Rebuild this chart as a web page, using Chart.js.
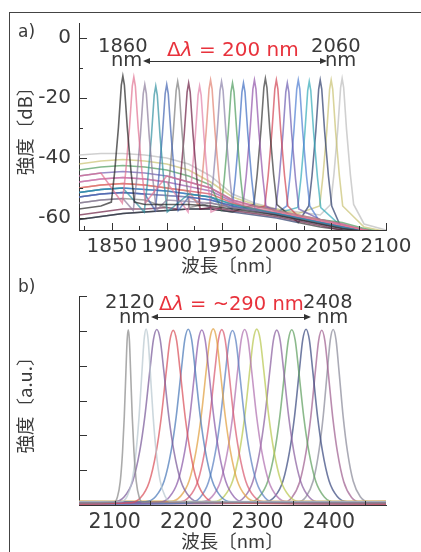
<!DOCTYPE html>
<html>
<head>
<meta charset="utf-8">
<script src="https://cdn.jsdelivr.net/npm/chart.js@4/dist/chart.umd.min.js"></script>
<style>
  body { margin: 0; background: #fff; }
  #page { position: relative; width: 421px; height: 552px; overflow: hidden;
          font-family: 'DejaVu Sans', sans-serif; color: #3a3a3a; }
  .frame { position: absolute; left: 9px; top: 12px; right: -2px; bottom: -2px;
           border-left: 1px solid #444; border-top: 1px solid #444; }
  canvas { position: absolute; left: 0; }
  .t { position: absolute; line-height: 1; white-space: nowrap; font-size: 19.5px; }
  .red { color: #e8323c; font-size: 20px; }
  .arrow { position: absolute; height: 1px; background: #333; }
  .arrow:before, .arrow:after { content: ''; position: absolute; top: -3px;
           border-top: 3.5px solid transparent; border-bottom: 3.5px solid transparent; }
  .arrow:before { left: -2px; border-right: 7px solid #333; }
  .arrow:after { right: -2px; border-left: 7px solid #333; }
</style>
</head>
<body>
<div id="page">
  <canvas id="chartA" width="421" height="276" style="top:0"></canvas>
  <canvas id="chartB" width="421" height="276" style="top:276px"></canvas>
  <div class="frame"></div>

  <div class="t" style="left:18px;top:23px;font-size:17px">a)</div>
  <div class="t" style="left:98px;top:36px">1860</div>
  <div class="t" style="left:111px;top:50px">nm</div>
  <div class="t red" style="left:167px;top:39px">Δ<i>λ</i> = 200 nm</div>
  <div class="t" style="left:311px;top:36px">2060</div>
  <div class="t" style="left:325px;top:50px">nm</div>
  <div class="arrow" style="left:145px;width:180px;top:61px"></div>

  <div class="t" style="left:18px;top:278px;font-size:17px">b)</div>
  <div class="t" style="left:105px;top:292px">2120</div>
  <div class="t" style="left:119px;top:307px">nm</div>
  <div class="t red" style="left:159px;top:294px;font-size:19.5px">Δ<i>λ</i> = ~290 nm</div>
  <div class="t" style="left:303px;top:292px">2408</div>
  <div class="t" style="left:317px;top:307px">nm</div>
  <div class="arrow" style="left:153px;width:156px;top:317px"></div>
</div>

<script>
// ---- panel a: tunable laser spectra in dB ----
const peakNmA = [1860, 1870, 1880, 1890, 1900, 1910, 1920, 1930, 1940, 1950, 1960,
                 1970, 1980, 1990, 2000, 2010, 2020, 2030, 2040, 2050, 2060];
const peakDbA = [-12.7, -13, -15.5, -16, -15.5, -14.5, -15, -16, -14, -14.5, -15,
                 -15, -14, -13.5, -14, -15, -14, -14.5, -14, -14, -13.5];
const colorsA = ['#222222', '#e0708f', '#8a7a9a', '#2f8f9f', '#3f5fb0', '#7a7a7a', '#6a1a40',
                 '#e080a8', '#e08070', '#8a80a8', '#4a9a5a', '#3a6ac0', '#9050a8', '#333333',
                 '#d04050', '#6a5ab0', '#4a7ad0', '#30a8b8', '#283868', '#c8c070', '#bbbbbb'];
// which background curve each spectrum sits on
const baseOfA = [9, 3, 8, 6, 7, 8, 10, 4, 5, 7, 2, 6, 4, 11, 5, 3, 7, 6, 11, 1, 0];
const baseNmA = [1820, 1840, 1860, 1880, 1900, 1920, 1940, 1960, 1980, 2000, 2020, 2040, 2060, 2080, 2100];
const baseDbA = [
  [-39, -38.5, -38.5, -39, -40, -42, -46, -52, -55, -57, -58, -59, -60, -62, -64],
  [-42, -41, -40.5, -41, -42, -44, -48, -53, -55.5, -57, -58.5, -60, -61, -63, -64.5],
  [-44, -43, -42.5, -43, -44, -46, -49, -53.5, -56, -57.5, -59, -60.5, -61.5, -63.5, -65],
  [-46, -45, -44.5, -45, -46, -48, -50, -54, -56, -57.5, -59, -60.5, -62, -64, -65],
  [-48, -47, -46.5, -47, -48, -49.5, -51, -54.5, -56.5, -58, -59.5, -61, -62.5, -64, -65],
  [-50, -49, -48.5, -49, -50, -51, -52, -55, -57, -58, -59.5, -61, -62.5, -64, -65],
  [-51.5, -50.5, -50, -50.5, -51, -52, -53, -55.5, -57, -58.5, -60, -61.5, -63, -64.5, -65],
  [-53, -52, -51.5, -52, -52.5, -53, -54, -56, -57.5, -58.5, -60, -61.5, -63, -64.5, -65],
  [-55, -54, -53.5, -54, -54, -54.5, -55, -56.5, -57.5, -59, -60.5, -62, -63.5, -64.5, -65],
  [-57, -56, -55.5, -55.5, -55.5, -55.5, -56, -57, -58, -59, -60.5, -62, -63.5, -64.5, -65],
  [-59, -58, -57, -57, -56.5, -56.5, -56.5, -57.5, -58.5, -59.5, -61, -62.5, -64, -65, -65],
  [-60.5, -59.5, -58.5, -58, -57.5, -57, -57, -58, -59, -60, -61.5, -63, -64, -65, -65]
];
// one line shape (offset in nm, dB below the top)
const shapeNmA = [-10.5, -7.5, -4, -1.4, 0, 1.4, 4, 7.5, 10.5];
const shapeDbA = [-42, -32, -17, -3, 0, -3, -17, -32, -42];
const xTicksA = [1825, 1850, 1875, 1900, 1925, 1950, 1975, 2000, 2025, 2050, 2075, 2100];
const yTicksA = [0, -10, -20, -30, -40, -50, -60];

// ---- panel b: normalised spectra ----
const peakNmB = [2119, 2144, 2159, 2182, 2203, 2222, 2238, 2250, 2265, 2282, 2299, 2327, 2348, 2368, 2390, 2406];
const widthB  = [0.4, 0.7, 1.2, 1.2, 1.2, 1.2, 1.2, 1.2, 1.2, 1.2, 1.2, 1.2, 1.2, 1.15, 1.1, 1.0];
const floorB  = [0.012, 0.02, 0.015, 0.005, 0.018, 0.01, 0.022, 0.014, 0.004, 0.016, 0.02, 0.008, 0.012, 0.018, 0.006, 0.015];
const colorsB = ['#8a8a8a', '#b8c8d0', '#7a5a9a', '#d9505a', '#4a78b8', '#8a5aa8', '#e0a040', '#d85a70',
                 '#5a80c0', '#b070b0', '#b8c850', '#8a60a0', '#60a060', '#3a4a80', '#a06090', '#8a8a9a'];
const shapeNmB = [-50, -38, -28, -20, -14, -8, -4, 0, 4, 8, 14, 20, 28, 38, 50];
const shapeLvB = [0.01, 0.04, 0.13, 0.3, 0.5, 0.77, 0.94, 1, 0.94, 0.77, 0.5, 0.3, 0.13, 0.04, 0.01];
const xTicksB = [2100, 2150, 2200, 2250, 2300, 2350, 2400, 2450];
const yTicksB = [0, 0.1, 0.2, 0.3, 0.4, 0.5, 0.6, 0.7, 0.8, 0.9, 1.0, 1.1, 1.2];

const numFontA = { family: "'DejaVu Sans', sans-serif", size: 20 };
const numFontB = { family: "'DejaVu Sans', sans-serif", size: 20.5 };
const jpFont = { family: "'Noto Sans CJK JP', sans-serif", size: 18.5 };
const textColor = '#3a3a3a';

// short ticks drawn into the plot, like the original
const inwardTicks = {
  id: 'inwardTicks',
  afterDraw(chart, args, opts) {
    const { ctx, chartArea: a, scales } = chart;
    const isMajor = (v, step) => Math.abs(v / step - Math.round(v / step)) < 1e-6;
    ctx.save();
    ctx.strokeStyle = '#333';
    ctx.lineWidth = 1;
    ctx.beginPath();
    scales.x.ticks.forEach(t => {
      const px = Math.round(scales.x.getPixelForValue(t.value)) + 0.5;
      const len = isMajor(t.value, opts.majorX) ? opts.xLen[0] : opts.xLen[1];
      ctx.moveTo(px, a.bottom);
      ctx.lineTo(px, a.bottom - len);
    });
    scales.y.ticks.forEach(t => {
      const py = Math.round(scales.y.getPixelForValue(t.value)) + 0.5;
      const len = isMajor(t.value, opts.majorY) ? opts.yLen[0] : opts.yLen[1];
      ctx.moveTo(a.left, py);
      ctx.lineTo(a.left + len, py);
    });
    ctx.stroke();
    ctx.restore();
  }
};

function seriesA(i) {
  const c = peakNmA[i];
  const base = baseDbA[baseOfA[i]];
  const pts = [];
  baseNmA.forEach((x, k) => { if (Math.abs(x - c) >= 11) pts.push({ x: x, y: base[k] }); });
  shapeNmA.forEach((dx, k) => pts.push({ x: c + dx, y: peakDbA[i] + shapeDbA[k] }));
  return pts.sort((p, q) => p.x - q.x);
}

function seriesB(i) {
  const c = peakNmB[i];
  const pts = [{ x: 2050, y: floorB[i] }];
  shapeNmB.forEach((dx, k) => pts.push({ x: c + dx * widthB[i], y: shapeLvB[k] + floorB[i] * 0.5 }));
  pts.push({ x: 2480, y: floorB[i] });
  return pts;
}

function axisX(min, max, tickVals, labelStep, height, font) {
  return {
    type: 'linear', min: min, max: max,
    afterBuildTicks: s => { s.ticks = tickVals.map(v => ({ value: v })); },
    afterFit: s => { s.height = height; },
    grid: { drawOnChartArea: false, drawTicks: false },
    border: { color: '#333', width: 1 },
    ticks: { autoSkip: false, maxRotation: 0, padding: 5, color: textColor, font: font,
             callback: v => (v % labelStep === 0 ? String(v) : '') },
    title: { display: true, text: '波長〔nm〕', color: textColor, font: jpFont, padding: { top: 0, bottom: 0 } }
  };
}

function axisY(min, max, tickVals, labelFn, titleText) {
  return {
    min: min, max: max,
    afterBuildTicks: s => { s.ticks = tickVals.map(v => ({ value: v })); },
    afterFit: s => { s.width = 69; },
    grid: { drawOnChartArea: false, drawTicks: false },
    border: { color: '#333', width: 1 },
    ticks: { padding: 8, color: textColor, font: numFontA, callback: labelFn },
    title: { display: true, text: titleText, color: textColor, font: jpFont, padding: { top: 4, bottom: 4 } }
  };
}

new Chart(document.getElementById('chartA'), {
  type: 'line',
  data: {
    datasets: peakNmA.map((c, i) => ({
      data: seriesA(i),
      borderColor: colorsA[i] + 'b0',
      borderWidth: 1.6
    }))
  },
  options: {
    responsive: false,
    animation: false,
    layout: { padding: { left: 10, top: 23, right: 35, bottom: 0 } },
    elements: { point: { radius: 0 }, line: { tension: 0 } },
    plugins: {
      legend: { display: false },
      tooltip: { enabled: false },
      inwardTicks: { majorX: 50, majorY: 20, xLen: [7, 4], yLen: [8, 4] }
    },
    scales: {
      x: axisX(1820, 2100, xTicksA, 50, 46, numFontA),
      y: axisY(-64, 5, yTicksA, v => (v % 20 === 0 ? String(v) : ''), '強度〔dB〕')
    }
  },
  plugins: [inwardTicks]
});

new Chart(document.getElementById('chartB'), {
  type: 'line',
  data: {
    datasets: peakNmB.map((c, i) => ({
      data: seriesB(i),
      borderColor: colorsB[i] + 'b8',
      borderWidth: 1.6
    }))
  },
  options: {
    responsive: false,
    animation: false,
    layout: { padding: { left: 10, top: 20, right: 35, bottom: 0 } },
    elements: { point: { radius: 0 }, line: { cubicInterpolationMode: 'monotone' } },
    plugins: {
      legend: { display: false },
      tooltip: { enabled: false },
      inwardTicks: { majorX: 50, majorY: 0.2, xLen: [4, 4], yLen: [8, 3] }
    },
    scales: {
      x: axisX(2050, 2480, xTicksB, 100, 47, numFontB),
      y: axisY(0, 1.2, yTicksB, () => '', '強度〔a.u.〕')
    }
  },
  plugins: [inwardTicks]
});
</script>
</body>
</html>
